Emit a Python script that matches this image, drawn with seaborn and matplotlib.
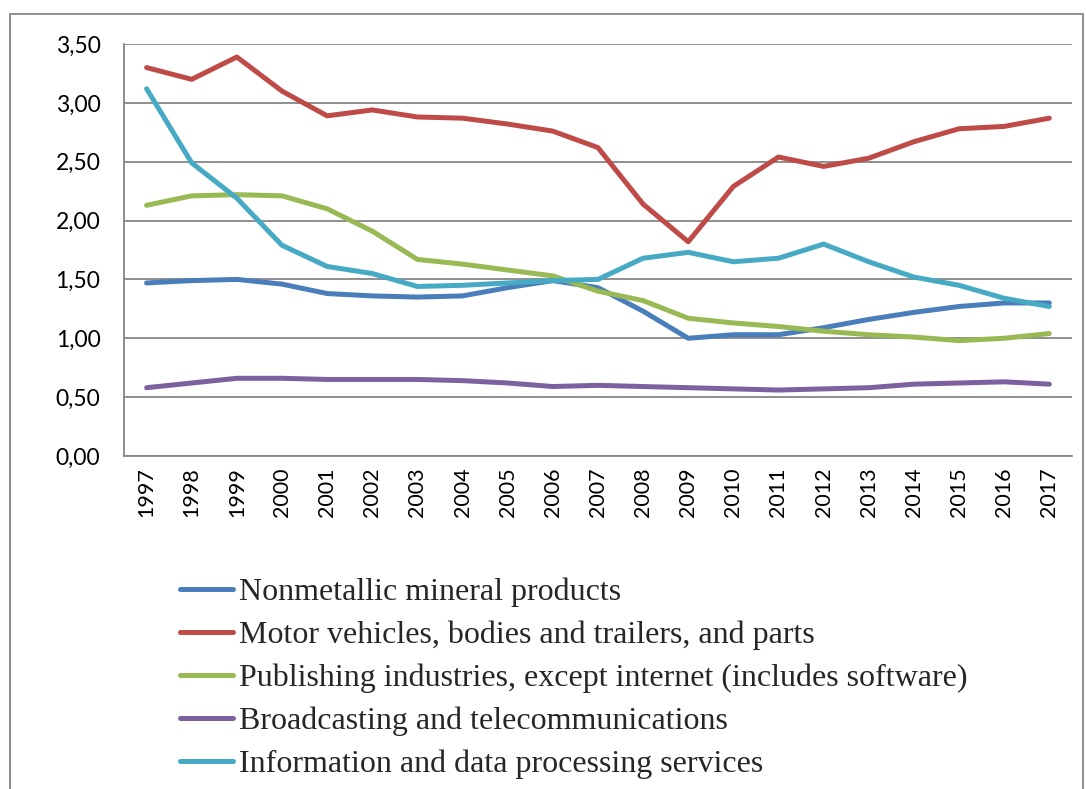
import pandas as pd
import matplotlib
matplotlib.use("Agg")
import matplotlib.pyplot as plt
import seaborn as sns
from matplotlib.patches import Rectangle

# data
years = list(range(1997, 2018))
nonmetallic = [1.47, 1.49, 1.50, 1.46, 1.38, 1.36, 1.35, 1.36, 1.43, 1.49, 1.43,
               1.23, 1.00, 1.03, 1.03, 1.09, 1.16, 1.22, 1.27, 1.30, 1.30]
motor = [3.30, 3.20, 3.39, 3.10, 2.89, 2.94, 2.88, 2.87, 2.82, 2.76, 2.62,
         2.14, 1.82, 2.29, 2.54, 2.46, 2.53, 2.67, 2.78, 2.80, 2.87]
publishing = [2.13, 2.21, 2.22, 2.21, 2.10, 1.91, 1.67, 1.63, 1.58, 1.53, 1.40,
              1.32, 1.17, 1.13, 1.10, 1.06, 1.03, 1.01, 0.98, 1.00, 1.04]
broadcasting = [0.58, 0.62, 0.66, 0.66, 0.65, 0.65, 0.65, 0.64, 0.62, 0.59, 0.60,
                0.59, 0.58, 0.57, 0.56, 0.57, 0.58, 0.61, 0.62, 0.63, 0.61]
information = [3.12, 2.49, 2.19, 1.79, 1.61, 1.55, 1.44, 1.45, 1.47, 1.49, 1.50,
               1.68, 1.73, 1.65, 1.68, 1.80, 1.65, 1.52, 1.45, 1.34, 1.27]

series_names = [
    "Nonmetallic mineral products",
    "Motor vehicles, bodies and trailers, and parts",
    "Publishing industries, except internet (includes software)",
    "Broadcasting and telecommunications",
    "Information and data processing services",
]
series_values = [nonmetallic, motor, publishing, broadcasting, information]
colors = ["#4A7EBB", "#BE4B48", "#98B954", "#7D60A0", "#46AAC5"]

y_ticks = [0, 0.5, 1.0, 1.5, 2.0, 2.5, 3.0, 3.5]

rows = []
for name, vals in zip(series_names, series_values):
    for yr, v in zip(years, vals):
        rows.append({"year": yr, "value": v, "series": name})
df = pd.DataFrame(rows)

sns.set_style("white")
plt.rcParams["font.family"] = ["Lato", "DejaVu Sans"]

fig = plt.figure(figsize=(10.86, 7.89), dpi=100)
ax = fig.add_axes([0.1142, 0.4221, 0.8728, 0.5221])

grid_c = "#868686"
sns.lineplot(data=df, x="year", y="value", hue="series", hue_order=series_names,
             palette=colors, linewidth=3.6, ax=ax, legend=False,
             solid_capstyle="round", solid_joinstyle="round")

ax.set_xlim(1996.5, 2017.5)
ax.set_ylim(0, 3.5)
ax.set_yticks(y_ticks)
ax.set_yticklabels([f"{t:.2f}".replace(".", ",") for t in y_ticks],
                   fontsize=16.5, color="black")
ax.set_xticks(years)
ax.set_xticklabels([str(y) for y in years], rotation=90, fontsize=15.5, color="black")
ax.set_xticks([y + 0.5 for y in range(1996, 2018)], minor=True)
ax.tick_params(axis="x", which="major", length=0, pad=8)
ax.tick_params(axis="x", which="minor", length=7, width=1.3, color=grid_c, direction="out")
ax.tick_params(axis="y", length=7, width=1.3, color=grid_c, direction="out", pad=10)
ax.set_xlabel("")
ax.set_ylabel("")

ax.yaxis.grid(True, color=grid_c, linewidth=1.3)
ax.set_axisbelow(True)
for side in ["top", "right"]:
    ax.spines[side].set_visible(False)
for side in ["left", "bottom"]:
    ax.spines[side].set_color(grid_c)
    ax.spines[side].set_linewidth(1.3)

# legend below the plot
handles = [plt.Line2D([0], [0], color=c, linewidth=3.6, solid_capstyle="round")
           for c in colors]
fig.legend(handles, series_names, loc="upper left",
           bbox_to_anchor=(0.166, 0.268), frameon=False,
           prop={"family": "Liberation Serif", "size": 23},
           handlelength=1.65, handletextpad=0.2, labelspacing=0.42,
           borderaxespad=0, borderpad=0)

# outer chart border
fig.patches.append(Rectangle((10 / 1086, -0.05), 1073 / 1086, 1 - 14 / 789 + 0.05,
                             transform=fig.transFigure, fill=False,
                             edgecolor=grid_c, linewidth=1.3))

fig.savefig("out.png", dpi=100)
